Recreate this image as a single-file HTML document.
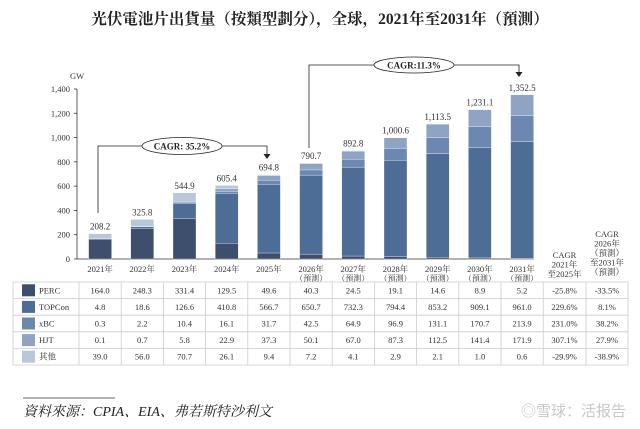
<!DOCTYPE html>
<html><head><meta charset="utf-8">
<style>
body{margin:0;background:#fff;}
svg{display:block;font-family:"Liberation Serif","Noto Serif CJK SC",serif;}
</style></head>
<body>
<svg id="c" width="640" height="429" viewBox="0 0 640 429">
<text x="320" y="24" text-anchor="middle" font-size="15.5" font-weight="bold" fill="#222">光伏電池片出貨量（按類型劃分），全球，2021年至2031年（預測）</text>
<text x="70" y="79" font-size="8.5" fill="#333">GW</text>
<g id="axes"></g><g id="bars"></g><g id="table"></g>
<g>
<polyline points="98,213 98,146 267,146 267,154" fill="none" stroke="#222" stroke-width="0.8"/>
<polygon points="263.5,154 270.5,154 267,159" fill="#222"/>
<ellipse cx="182" cy="146" rx="40" ry="8.5" fill="#fff" stroke="#222" stroke-width="0.8"/>
<text x="182" y="149.5" text-anchor="middle" font-size="9" font-weight="bold" fill="#222">CAGR: 35.2%</text>
</g>
<g>
<polyline points="309,148 309,65 519,65 519,72" fill="none" stroke="#222" stroke-width="0.8"/>
<polygon points="515.5,72 522.5,72 519,77" fill="#222"/>
<ellipse cx="414" cy="65" rx="40" ry="8" fill="#fff" stroke="#222" stroke-width="0.8"/>
<text x="414" y="68.5" text-anchor="middle" font-size="9" font-weight="bold" fill="#222">CAGR:11.3%</text>
</g>
<line x1="23" y1="398" x2="115" y2="398" stroke="#333" stroke-width="0.8"/>
<text x="23" y="416" font-size="14" font-style="italic" fill="#222">資料來源：CPIA、EIA、弗若斯特沙利文</text>
<text x="626" y="416" text-anchor="end" font-size="15" fill="#c8c8c8" font-family="Liberation Sans,Noto Sans CJK SC,sans-serif">◎雪球：活报告</text>
</svg>
<script>
const years=["2021年","2022年","2023年","2024年","2025年","2026年","2027年","2028年","2029年","2030年","2031年"];
const forecast=[false,false,false,false,false,true,true,true,true,true,true];
const seriesNames=["PERC","TOPCon","xBC","HJT","其他"];
const perc=[164.0,248.3,331.4,129.5,49.6,40.3,24.5,19.1,14.6,8.9,5.2];
const topcon=[4.8,18.6,126.6,410.8,566.7,650.7,732.3,794.4,853.2,909.1,961.0];
const xbc=[0.3,2.2,10.4,16.1,31.7,42.5,64.9,96.9,131.1,170.7,213.9];
const hjt=[0.1,0.7,5.8,22.9,37.3,50.1,67.0,87.3,112.5,141.4,171.9];
const other=[39.0,56.0,70.7,26.1,9.4,7.2,4.1,2.9,2.1,1.0,0.6];
const totals=["208.2","325.8","544.9","605.4","694.8","790.7","892.8","1,000.6","1,113.5","1,231.1","1,352.5"];
const cagrA=["-25.8%","229.6%","231.0%","307.1%","-29.9%"];
const cagrB=["-33.5%","8.1%","38.2%","27.9%","-38.9%"];
const yTicks=[0,200,400,600,800,1000,1200,1400];
const colors=["#3e4f6d","#4e6d96","#6c88b0","#8fa4c3","#b9c7da"];
const NS="http://www.w3.org/2000/svg";
const svg=document.getElementById('c');
function el(t,a,p){const e=document.createElementNS(NS,t);for(const k in a)e.setAttribute(k,a[k]);p.appendChild(e);return e;}
const y0=259,pxPer=170/1400;
const yS=v=>y0-v*pxPer;
const colL=79,colW=42.2;
const xC=i=>colL+colW*(i+0.5);
const barW=23;
const axes=document.getElementById('axes');
const ya=el('line',{x1:77,y1:yS(1400),x2:77,y2:y0,stroke:'#333','stroke-width':0.8},axes);


const xa=el('line',{x1:77,y1:y0,x2:534,y2:y0,stroke:'#333','stroke-width':0.8},axes);


yTicks.forEach(v=>{
  el('line',{x1:74,y1:yS(v),x2:77,y2:yS(v),stroke:'#333','stroke-width':0.8},axes);
  const t=el('text',{x:70,y:yS(v)+3,'text-anchor':'end','font-size':8.5,fill:'#333'},axes);
  t.textContent=v.toLocaleString('en-US');
  
  
});
const bars=document.getElementById('bars');
const series=[perc,topcon,xbc,hjt,other];
years.forEach((yr,i)=>{
  let acc=0;
  series.forEach((s,k)=>{
    const r=el('rect',{x:xC(i)-barW/2,y:yS(acc+s[i]),width:barW,height:s[i]*pxPer,fill:colors[k],stroke:'#fff','stroke-width':0.3},bars);
    
    
    acc+=s[i];
  });
  const t=el('text',{x:xC(i),y:yS(acc)-4,'text-anchor':'middle','font-size':9,fill:'#333'},bars);
  t.textContent=totals[i];
  
  
  const c=el('text',{x:xC(i),y:272,'text-anchor':'middle','font-size':8.5,fill:'#333'},bars);
  c.textContent=yr;
  
  
  if(forecast[i]){
    const f=el('text',{x:xC(i),y:281,'text-anchor':'middle','font-size':8,fill:'#333'},bars);
    f.textContent='（預測）';
    
    
  }
});
const tb=document.getElementById('table');
const hdrA=["CAGR","2021年","至2025年"],hdrB=["CAGR","2026年","（預測）","至2031年","（預測）"];
hdrA.forEach((s,j)=>{const t=el('text',{x:564.5,y:258+j*9.5,'text-anchor':'middle','font-size':8.5,fill:'#333'},tb);t.textContent=s;

});
hdrB.forEach((s,j)=>{const t=el('text',{x:607,y:237+j*9.5,'text-anchor':'middle','font-size':8.5,fill:'#333'},tb);t.textContent=s;

});
const rowT=282,rowH=16.6,tL=13,tR=628;
const cols=[tL,colL];for(let i=1;i<=11;i++)cols.push(colL+colW*i);cols.push(586,tR);
for(let r=0;r<=5;r++)el('line',{x1:tL,y1:rowT+r*rowH,x2:tR,y2:rowT+r*rowH,stroke:'#ccc','stroke-width':0.8},tb);
cols.forEach(x=>el('line',{x1:x,y1:rowT,x2:x,y2:rowT+5*rowH,stroke:'#ccc','stroke-width':0.8},tb));
seriesNames.forEach((n,k)=>{
  const cy=rowT+k*rowH+rowH/2;
  const sw=el('rect',{x:22,y:cy-6,width:13,height:12,fill:colors[k]},tb);
  
  
  const t=el('text',{x:39,y:cy+3,'font-size':8.5,fill:'#333'},tb);t.textContent=n;
  
  
  series[k].forEach((v,i)=>{const c=el('text',{x:xC(i),y:cy+3,'text-anchor':'middle','font-size':8.5,fill:'#333'},tb);c.textContent=v.toFixed(1);
    
    });
  const a=el('text',{x:564.5,y:cy+3,'text-anchor':'middle','font-size':8.5,fill:'#333'},tb);a.textContent=cagrA[k];
  
  
  const b=el('text',{x:607,y:cy+3,'text-anchor':'middle','font-size':8.5,fill:'#333'},tb);b.textContent=cagrB[k];
  
  
});
</script>
</body></html>
